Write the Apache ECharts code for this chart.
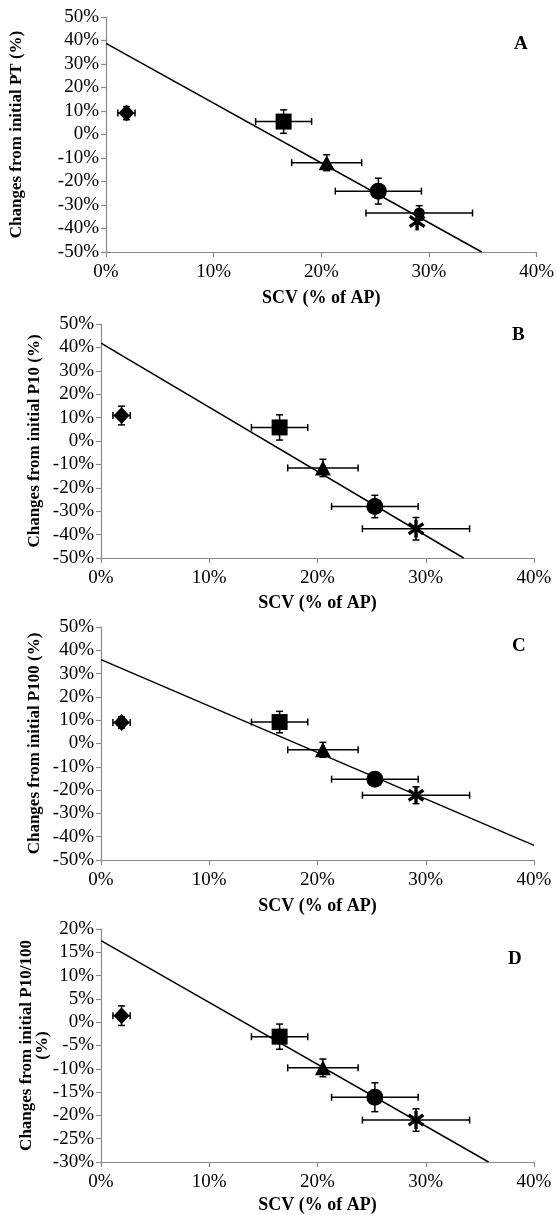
<!DOCTYPE html>
<html>
<head>
<meta charset="utf-8">
<script src="https://cdn.jsdelivr.net/npm/echarts@6/dist/echarts.min.js"></script>
<style>
  html, body { margin: 0; padding: 0; background: #fff; }
  #chart { width: 557px; height: 1215px; }
</style>
</head>
<body>
<div id="chart"></div>
<script>
// SCV (% of AP) for the five groups, with x error (+/-)
var scvX   = [1.9, 16.5, 20.5, 25.3, 29.1];
var scvErr = [0.8, 2.6, 3.25, 4.0, 4.95];
var shapes = ['diamond', 'rect', 'triangle', 'circle', 'asterisk'];

// changes from initial value (%) and y error (+/-)
var ptY    = [9.1, 5.5, -12.0, -24.1, -33.4];
var ptErr  = [2.8, 5.0, 3.4, 5.5, 3.1];
var ptStar = [28.9, -37.0];  // asterisk drawn off its error bar centre in panel A
var p10Y   = [10.9, 5.8, -11.5, -28.0, -37.5];
var p10Err = [4.0, 5.4, 3.7, 4.8, 4.8];
var p100Y  = [9.0, 9.2, -2.7, -15.3, -22.2];
var p100Err= [2.4, 4.6, 3.2, 2.5, 3.6];
var ratioY = [1.4, -3.1, -9.8, -16.1, -21.0];
var ratioErr=[2.1, 2.7, 1.9, 3.1, 2.4];

// trend lines, [x, y] end points
var ptTrend    = [[0, 38.8], [34.9, -50]];
var p10Trend   = [[0, 41.8], [33.5, -50]];
var p100Trend  = [[0, 36.0], [40, -43.7]];
var ratioTrend = [[0, 17.5], [35.8, -30]];

var xTicks = [0, 10, 20, 30, 40];

var FONT = '"Liberation Serif", "Times New Roman", serif';
var AXIS_GREY = '#8a8a8a';

// asterisk symbol: three bars
function starPath() {
  var L = 8, w = 1.5, parts = [];
  [90, 35, 145].forEach(function (deg) {
    var a = deg * Math.PI / 180, c = Math.cos(a), s = Math.sin(a);
    var pts = [[L * c - w * s, L * s + w * c], [-L * c - w * s, -L * s + w * c],
               [-L * c + w * s, -L * s - w * c], [L * c + w * s, L * s - w * c]];
    parts.push('M' + pts.map(function (p) { return p[0].toFixed(2) + ',' + p[1].toFixed(2); }).join('L') + 'Z');
  });
  return 'path://' + parts.join('');
}
var STAR = starPath();

var symbolFor = { diamond: 'diamond', rect: 'rect', triangle: 'triangle', circle: 'circle', asterisk: STAR };
var sizeFor = { diamond: [16, 17], rect: 16, triangle: [16, 15], circle: 17, asterisk: 18 };

function errBars(params, api) {
  var x = api.value(0), y = api.value(1), ex = api.value(2), ey = api.value(3);
  var l = api.coord([x - ex, y]), r = api.coord([x + ex, y]);
  var t = api.coord([x, y + ey]), b = api.coord([x, y - ey]);
  var cap = 3.5;
  var st = { stroke: '#000', lineWidth: 1.5 };
  var kids = [];
  if (ex > 0) {
    kids.push({ type: 'line', shape: { x1: l[0], y1: l[1], x2: r[0], y2: r[1] }, style: st });
    kids.push({ type: 'line', shape: { x1: l[0], y1: l[1] - cap, x2: l[0], y2: l[1] + cap }, style: st });
    kids.push({ type: 'line', shape: { x1: r[0], y1: r[1] - cap, x2: r[0], y2: r[1] + cap }, style: st });
  }
  if (ey > 0) {
    kids.push({ type: 'line', shape: { x1: t[0], y1: t[1], x2: b[0], y2: b[1] }, style: st });
    kids.push({ type: 'line', shape: { x1: t[0] - cap, y1: t[1], x2: t[0] + cap, y2: t[1] }, style: st });
    kids.push({ type: 'line', shape: { x1: b[0] - cap, y1: b[1], x2: b[0] + cap, y2: b[1] }, style: st });
  }
  return { type: 'group', children: kids };
}

var panels = [
  { letter: 'A', name: 'Changes from initial PT (%)', ys: ptY, errs: ptErr, trend: ptTrend,
    min: -50, max: 50, step: 10, grid: { left: 106, right: 18, top: 17, height: 235 },
    nameGap: 81, xNameGap: 37, letterPos: [509, 30] },
  { letter: 'B', name: 'Changes from initial P10 (%)', ys: p10Y, errs: p10Err, trend: p10Trend,
    min: -50, max: 50, step: 10, grid: { left: 101, right: 23, top: 324, height: 234 },
    nameGap: 58, xNameGap: 36, letterPos: [507, 321] },
  { letter: 'C', name: 'Changes from initial P100 (%)', ys: p100Y, errs: p100Err, trend: p100Trend,
    min: -50, max: 50, step: 10, grid: { left: 101, right: 23, top: 627, height: 233 },
    nameGap: 58, xNameGap: 37, letterPos: [507, 632] },
  { letter: 'D', name: 'Changes from initial P10/100\n(%)', ys: ratioY, errs: ratioErr, trend: ratioTrend,
    min: -30, max: 20, step: 5, grid: { left: 101, right: 23, top: 929, height: 234 },
    nameGap: 50, xNameGap: 34, letterPos: [503, 945] }
];

var grids = [], xAxes = [], yAxes = [], series = [], titles = [];

panels.forEach(function (p, i) {
  grids.push(p.grid);
  xAxes.push({
    type: 'value', gridIndex: i, min: xTicks[0], max: xTicks[xTicks.length - 1], interval: 10,
    name: 'SCV (% of AP)', nameLocation: 'middle', nameGap: p.xNameGap, nameMoveOverlap: false,
    nameTextStyle: { fontFamily: FONT, fontWeight: 'bold', fontSize: 18, color: '#000' },
    axisLine: { show: true, onZero: false, lineStyle: { color: AXIS_GREY, width: 1.2 } },
    axisTick: { show: true, length: 5, lineStyle: { color: AXIS_GREY, width: 1.2 } },
    axisLabel: { formatter: '{value}%', fontFamily: FONT, fontSize: 19, color: '#000', margin: 11 },
    splitLine: { show: false }
  });
  yAxes.push({
    type: 'value', gridIndex: i, min: p.min, max: p.max, interval: p.step,
    name: p.name, nameLocation: 'middle', nameGap: p.nameGap, nameRotate: 90, nameMoveOverlap: false,
    nameTextStyle: { fontFamily: FONT, fontWeight: 'bold', fontSize: 17, color: '#000', lineHeight: 16 },
    axisLine: { show: true, lineStyle: { color: AXIS_GREY, width: 1.2 } },
    axisTick: { show: true, length: 5, lineStyle: { color: AXIS_GREY, width: 1.2 } },
    axisLabel: { formatter: '{value}%', fontFamily: FONT, fontSize: 19, color: '#000', margin: 7 },
    splitLine: { show: false }
  });
  titles.push({
    text: p.letter, left: p.letterPos[0], top: p.letterPos[1],
    textStyle: { fontFamily: FONT, fontWeight: 'bold', fontSize: 19, color: '#000' }
  });

  // trend line
  series.push({
    type: 'line', xAxisIndex: i, yAxisIndex: i, data: p.trend, showSymbol: false, symbol: 'none',
    lineStyle: { color: '#000', width: 1.5 }, silent: true, animation: false, z: 2
  });

  // error bars
  var errData = scvX.map(function (x, k) { return [x, p.ys[k], scvErr[k], p.errs[k]]; });
  series.push({
    type: 'custom', xAxisIndex: i, yAxisIndex: i, data: errData, renderItem: errBars,
    encode: { x: 0, y: 1 }, silent: true, animation: false, z: 3
  });

  // markers
  shapes.forEach(function (shape, k) {
    var pt = [scvX[k], p.ys[k]];
    var sym = symbolFor[shape], size = sizeFor[shape];
    if (p.letter === 'A' && shape === 'asterisk') {
      // small dot at the error bar centre, asterisk slightly below it
      series.push({
        type: 'scatter', xAxisIndex: i, yAxisIndex: i, data: [pt], symbol: 'circle', symbolSize: 11,
        itemStyle: { color: '#000', opacity: 1 }, silent: true, animation: false, z: 4
      });
      pt = ptStar;
    }
    series.push({
      type: 'scatter', xAxisIndex: i, yAxisIndex: i, data: [pt], symbol: sym, symbolSize: size,
      symbolKeepAspect: shape === 'asterisk',
      itemStyle: { color: '#000', opacity: 1 }, silent: true, animation: false, z: 4
    });
  });
});

var chart = echarts.init(document.getElementById('chart'));
chart.setOption({
  backgroundColor: '#fff',
  animation: false,
  title: titles,
  grid: grids,
  xAxis: xAxes,
  yAxis: yAxes,
  series: series
});
</script>
</body>
</html>
